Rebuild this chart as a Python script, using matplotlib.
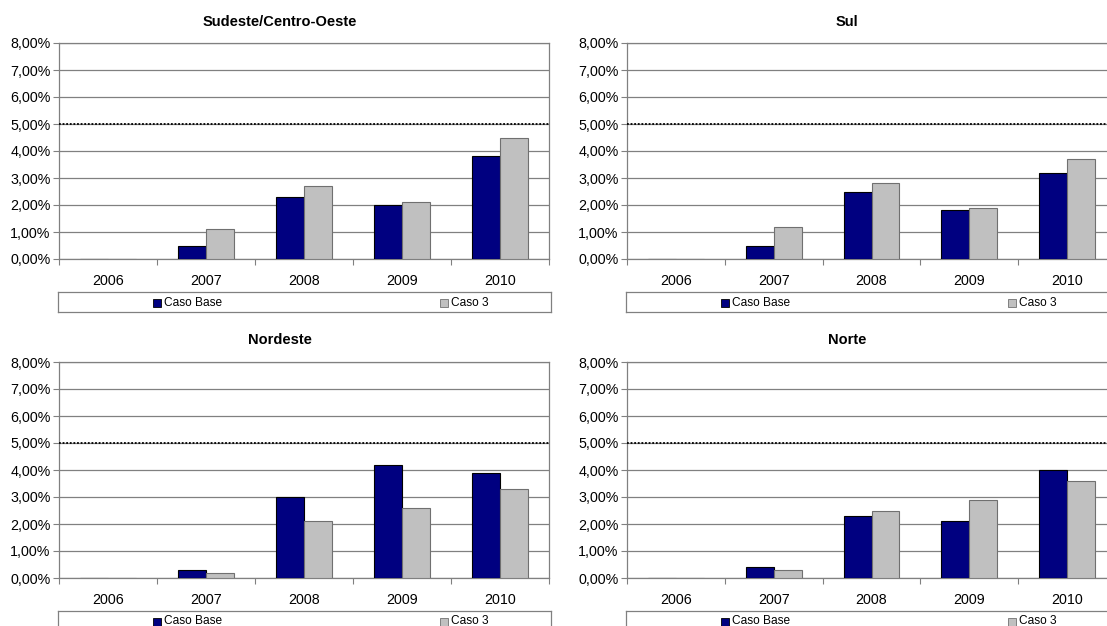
import matplotlib
matplotlib.use("Agg")
import matplotlib.pyplot as plt
from matplotlib.patches import Rectangle
import numpy as np

plt.rcParams['font.family'] = ['Liberation Sans', 'DejaVu Sans']

years = ['2006', '2007', '2008', '2009', '2010']
series_names = ['Caso Base', 'Caso 3']

regions = ['Sudeste/Centro-Oeste', 'Sul', 'Nordeste', 'Norte']
caso_base = {
    'Sudeste/Centro-Oeste': [0.0, 0.5, 2.3, 2.0, 3.8],
    'Sul':                  [0.0, 0.5, 2.5, 1.8, 3.2],
    'Nordeste':             [0.0, 0.3, 3.0, 4.2, 3.9],
    'Norte':                [0.0, 0.4, 2.3, 2.1, 4.0],
}
caso_3 = {
    'Sudeste/Centro-Oeste': [0.0, 1.1, 2.7, 2.1, 4.5],
    'Sul':                  [0.0, 1.2, 2.8, 1.9, 3.7],
    'Nordeste':             [0.0, 0.2, 2.1, 2.6, 3.3],
    'Norte':                [0.0, 0.3, 2.5, 2.9, 3.6],
}
limit_line = 5.0
y_ticks = [0, 1, 2, 3, 4, 5, 6, 7, 8]

W, H = 1107, 626
fig = plt.figure(figsize=(W / 100, H / 100), dpi=100)
fig.patch.set_facecolor('white')

NAVY = '#000080'
GRAY = '#C0C0C0'
GRID = '#808080'

# pixel boxes of each plot area: (left, right, top, bottom)
boxes = {
    'Sudeste/Centro-Oeste': (59, 549, 43, 259),
    'Sul': (627, 1116, 43, 259),
    'Nordeste': (59, 549, 362, 578),
    'Norte': (627, 1116, 362, 578),
}
legend_boxes = {
    'Sudeste/Centro-Oeste': (58, 551, 292, 312),
    'Sul': (626, 1120, 292, 312),
    'Nordeste': (58, 551, 611, 632),
    'Norte': (626, 1120, 611, 632),
}
# chart title anchor (x centre, y centre) in pixels
title_pos = {
    'Sudeste/Centro-Oeste': (280, 22),
    'Sul': (847, 22),
    'Nordeste': (280, 340),
    'Norte': (847, 340),
}


def px_axes(l, r, t, b):
    return fig.add_axes([l / W, 1 - b / H, (r - l) / W, (b - t) / H])


for reg in regions:
    l, r, t, b = boxes[reg]
    ax = px_axes(l, r, t, b)
    x = np.arange(len(years))
    bw = 0.286
    ax.bar(x - bw / 2, caso_base[reg], width=bw, color=NAVY, edgecolor='#000000',
           linewidth=0.8, zorder=3)
    ax.bar(x + bw / 2, caso_3[reg], width=bw, color=GRAY, edgecolor='#707070',
           linewidth=0.8, zorder=3)
    ax.axhline(limit_line, color='#000000', linestyle=(0, (1, 1)), linewidth=1.3, zorder=4)

    ax.set_xlim(-0.5, len(years) - 0.5)
    ax.set_ylim(0, 8)
    ax.set_yticks(y_ticks)
    ax.set_yticklabels([f'{v:.2f}%'.replace('.', ',') for v in y_ticks])
    ax.yaxis.grid(True, color=GRID, linewidth=0.9, zorder=0)
    ax.set_axisbelow(True)

    ax.set_xticks(x)
    ax.set_xticklabels(years)
    ax.set_xticks(np.arange(-0.5, len(years)), minor=True)
    ax.tick_params(axis='x', which='major', length=0, pad=11, labelsize=10.3)
    ax.tick_params(axis='x', which='minor', length=4, width=0.8, color=GRID)
    ax.tick_params(axis='y', length=4, width=0.8, color=GRID, pad=2, labelsize=10.3)

    for side in ('left', 'right', 'top', 'bottom'):
        ax.spines[side].set_color(GRID)
        ax.spines[side].set_linewidth(0.9)

    tx, ty = title_pos[reg]
    fig.text(tx / W, 1 - ty / H, reg, fontsize=10.5, fontweight='bold',
             ha='center', va='center')

    # legend box under each plot
    ll, lr, lt, lb = legend_boxes[reg]
    lax = px_axes(ll, lr, lt, lb)
    lax.set_xlim(ll, lr)
    lax.set_ylim(lb, lt)
    lax.set_xticks([])
    lax.set_yticks([])
    for s in lax.spines.values():
        s.set_color(GRID)
        s.set_linewidth(0.9)
    mid = lt + 10.5
    for name, color, edge, mx in [(series_names[0], NAVY, '#000000', ll + 95),
                                  (series_names[1], GRAY, '#707070', ll + 382)]:
        lax.add_patch(Rectangle((mx, mid + 4), 8, -8, facecolor=color,
                                edgecolor=edge, linewidth=0.6))
        lax.text(mx + 11, mid, name, fontsize=8.6, va='center', ha='left')

fig.savefig('out.png', dpi=100, facecolor='white')
